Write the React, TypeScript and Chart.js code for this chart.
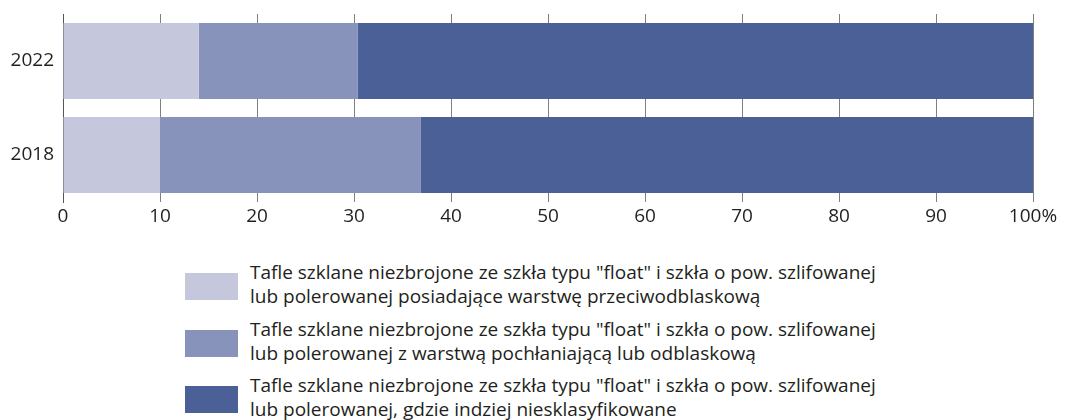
import React, { useEffect, useRef } from "react";
import { Chart, registerables } from "chart.js";

Chart.register(...registerables);

// Years shown on the category axis (top to bottom)
const years = ["2022", "2018"];

// Share of each product group, percent of total
const antiReflective = [14.0, 10.0];
const absorbingOrReflective = [16.4, 26.9];
const otherFloat = [69.6, 63.1];

// Value axis ticks
const xTicks = [0, 10, 20, 30, 40, 50, 60, 70, 80, 90, 100];

const seriesLabels = [
  [
    'Tafle szklane niezbrojone ze szkła typu "float" i szkła o pow. szlifowanej',
    "lub polerowanej posiadające warstwę przeciwodblaskową",
  ],
  [
    'Tafle szklane niezbrojone ze szkła typu "float" i szkła o pow. szlifowanej',
    "lub polerowanej z warstwą pochłaniającą lub odblaskową",
  ],
  [
    'Tafle szklane niezbrojone ze szkła typu "float" i szkła o pow. szlifowanej',
    "lub polerowanej, gdzie indziej niesklasyfikowane",
  ],
];

const seriesColors = ["#c5c8dd", "#8893bb", "#4a6096"];

const FONT = "'Open Sans', 'Noto Sans', sans-serif";
const TEXT = "#231f20";

export default function App() {
  const canvasRef = useRef<HTMLCanvasElement | null>(null);

  useEffect(() => {
    const canvas = canvasRef.current;
    if (!canvas) return;
    const seriesData = [antiReflective, absorbingOrReflective, otherFloat];
    const chart = new Chart(canvas, {
      type: "bar",
      data: {
        labels: years,
        datasets: seriesData.map((d, i) => ({
          label: seriesLabels[i].join(" "),
          data: d,
          backgroundColor: seriesColors[i],
          borderWidth: 0,
          categoryPercentage: 1,
          barPercentage: 0.81,
        })),
      },
      options: {
        indexAxis: "y",
        responsive: false,
        animation: false,
        layout: { padding: { top: 14, right: 35, left: 0, bottom: 0 } },
        plugins: {
          legend: { display: false },
          tooltip: { enabled: false },
        },
        scales: {
          x: {
            stacked: true,
            min: 0,
            max: 100,
            afterFit: (s: any) => {
              s.height = 38;
            },
            afterBuildTicks: (s: any) => {
              s.ticks = xTicks.map((v) => ({ value: v }));
            },
            ticks: {
              padding: 3,
              color: TEXT,
              font: { family: FONT, size: 19 },
              callback: (v: any) => (Number(v) === 100 ? "100%" : String(v)),
            },
            grid: { color: "#7f7f7f", lineWidth: 1, drawTicks: false },
            border: { display: false },
          },
          y: {
            stacked: true,
            afterFit: (s: any) => {
              // keep the plot area flush with the layout padding
              s.width = 63;
              s.paddingTop = 0;
              s.paddingBottom = 0;
            },
            ticks: {
              padding: 9,
              color: TEXT,
              font: { family: FONT, size: 19 },
            },
            grid: { display: false, drawTicks: false },
            border: { display: true, color: "#555", width: 1 },
          },
        },
      },
    });
    return () => chart.destroy();
  }, []);

  return (
    <div
      style={{
        position: "absolute",
        left: 0,
        top: 0,
        width: 1068,
        height: 420,
        background: "#fff",
        fontFamily: FONT,
      }}
    >
      <canvas
        ref={canvasRef}
        width={1068}
        height={240}
        style={{ display: "block", width: 1068, height: 240 }}
      />
      {seriesLabels.map((lines, i) => (
        <div
          key={i}
          style={{
            position: "absolute",
            left: 185,
            top: 260 + i * 56.5,
            display: "flex",
            alignItems: "flex-start",
          }}
        >
          <div
            style={{
              width: 53,
              height: 27,
              marginTop: 13,
              background: seriesColors[i],
              flex: "none",
            }}
          />
          <div
            style={{
              marginLeft: 12,
              fontSize: 19,
              lineHeight: "24px",
              color: TEXT,
              whiteSpace: "nowrap",
            }}
          >
            {lines.map((t, j) => (
              <div key={j}>{t}</div>
            ))}
          </div>
        </div>
      ))}
    </div>
  );
}
